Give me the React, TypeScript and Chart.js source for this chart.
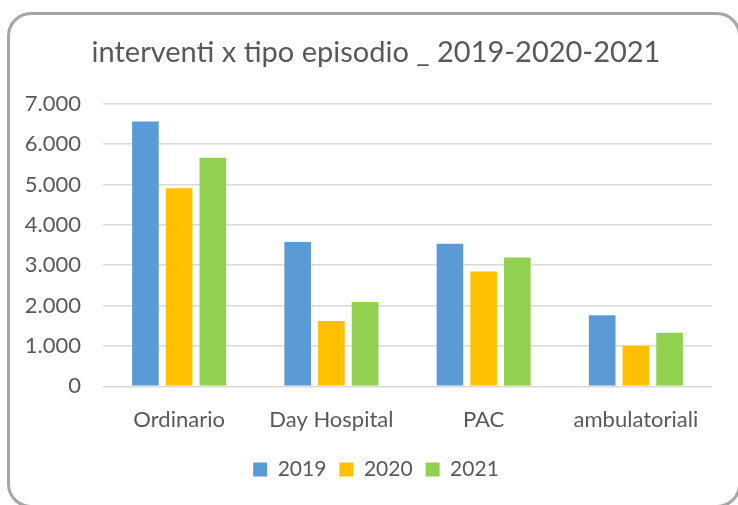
import React, { useEffect, useRef } from "react";
import { Chart, registerables } from "chart.js";

Chart.register(...registerables);

const categories = ["Ordinario", "Day Hospital", "PAC", "ambulatoriali"];
const seriesLabels = ["2019", "2020", "2021"];
const values2019 = [6560, 3575, 3530, 1760];
const values2020 = [4910, 1620, 2845, 1000];
const values2021 = [5665, 2090, 3190, 1330];
const seriesColors = ["#5B9BD5", "#FFC000", "#92D050"];
const yMin = 0;
const yMax = 7000;
const yStep = 1000;
const titleText = "interventi x tipo episodio _ 2019-2020-2021";

const fmt = (v: number) => String(v).replace(/\B(?=(\d{3})+(?!\d))/g, ".");

export default function App() {
  const ref = useRef<HTMLCanvasElement | null>(null);

  useEffect(() => {
    if (!ref.current) return;
    const font = "Lato, 'Noto Sans', sans-serif";
    const textColor = "#595959";
    const chart = new Chart(ref.current, {
      type: "bar",
      data: {
        labels: categories,
        datasets: [values2019, values2020, values2021].map((d, i) => ({
          label: seriesLabels[i],
          data: d,
          backgroundColor: seriesColors[i],
          borderWidth: 0,
          categoryPercentage: 0.664,
          barPercentage: 0.79,
        })),
      },
      options: {
        animation: false,
        responsive: false,
        layout: { padding: { left: 0, right: -14, top: 20, bottom: 15 } },
        plugins: {
          title: {
            display: true,
            text: titleText,
            color: textColor,
            font: { family: font, size: 29, weight: "normal" },
            padding: { top: 15, bottom: 34 },
          },
          legend: {
            display: true,
            position: "bottom",
            labels: {
              color: textColor,
              font: { family: font, size: 21 },
              boxWidth: 14,
              boxHeight: 14,
              padding: 13,
            },
          },
          tooltip: { enabled: false },
        },
        scales: {
          x: {
            grid: { display: false },
            border: { display: false },
            ticks: {
              color: textColor,
              font: { family: font, size: 22 },
              padding: 12,
              maxRotation: 0,
            },
            afterFit: (s: any) => {
              s.height = 59.7;
            },
          },
          y: {
            min: yMin,
            max: yMax,
            grid: { color: "#D9D9D9", lineWidth: 1.5, drawTicks: false },
            border: { display: false },
            ticks: {
              stepSize: yStep,
              color: textColor,
              font: { family: font, size: 22 },
              padding: 22,
              callback: (v: any) => fmt(Number(v)),
            },
            afterFit: (s: any) => {
              s.width = 103;
            },
          },
          spacer: {
            type: "linear",
            position: "right",
            min: 0,
            max: 1,
            grid: { display: false },
            border: { display: false },
            ticks: { display: false },
            afterFit: (s: any) => {
              s.width = 40;
            },
          },
        },
      },
    });
    return () => chart.destroy();
  }, []);

  return (
    <>
      <div
        style={{
          position: "fixed",
          left: 7,
          top: 12,
          width: 734,
          height: 496,
          border: "3px solid #A6A6A6",
          borderRadius: 24,
          boxSizing: "border-box",
          background: "#fff",
        }}
      />
      <canvas
        ref={ref}
        width={738}
        height={505}
        style={{ position: "fixed", left: 0, top: 0, width: 738, height: 505 }}
      />
    </>
  );
}
